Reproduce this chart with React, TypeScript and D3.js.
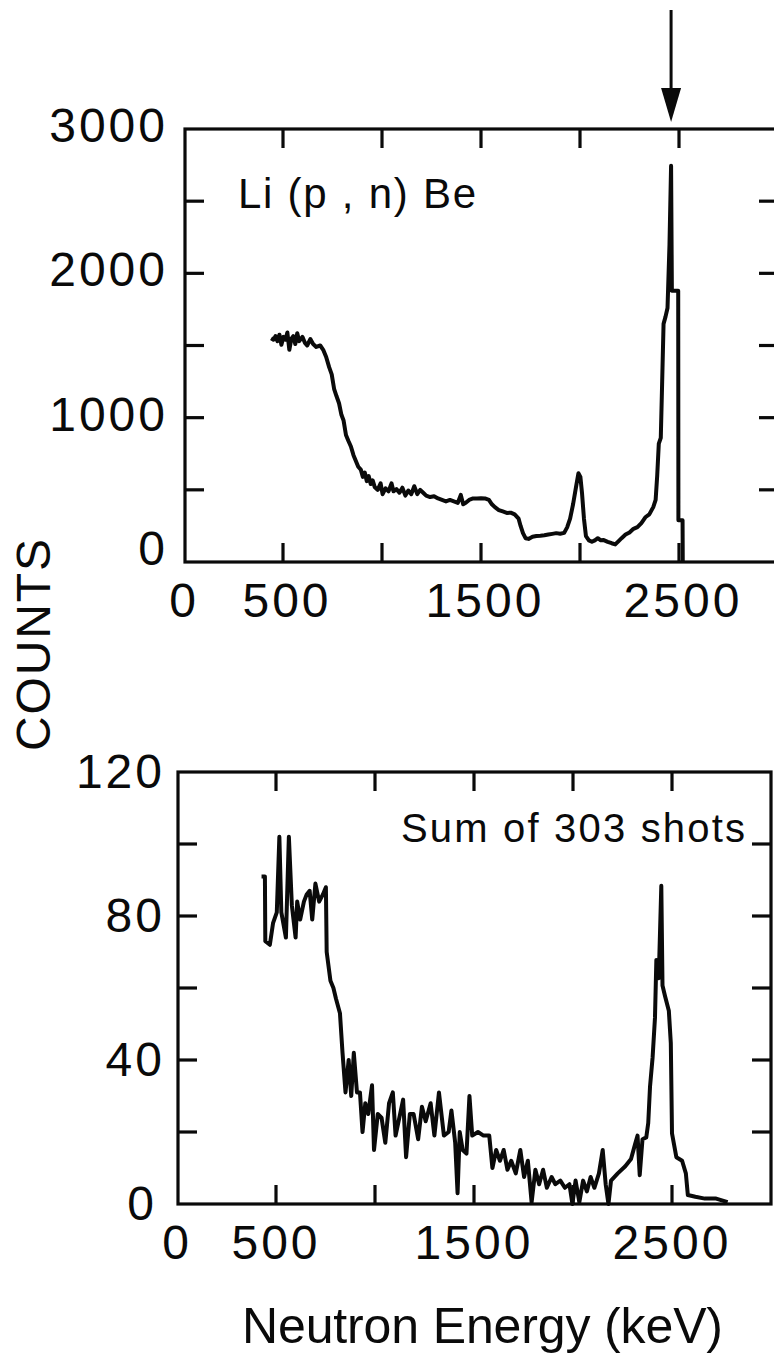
import React from 'react';
import * as d3 from 'd3';

// Li(p,n)Be spectrum, [energy keV, counts]
const liSpectrum: [number, number][] = [
  [440, 1550], [452, 1540], [462, 1565], [472, 1530], [482, 1575], [492, 1505], [502, 1560],
  [512, 1540], [522, 1590], [532, 1470], [542, 1545], [552, 1565], [562, 1510], [572, 1585],
  [582, 1530], [598, 1560], [610, 1520], [622, 1500], [638, 1545], [652, 1510], [668, 1490],
  [688, 1500], [703, 1470], [718, 1420], [733, 1350], [746, 1300], [758, 1200], [770, 1150],
  [783, 1100], [795, 1020], [806, 980], [818, 880], [830, 840], [843, 800], [856, 740],
  [868, 700], [880, 660], [893, 640], [903, 590], [913, 620], [923, 560], [933, 595],
  [943, 540], [953, 565], [963, 520], [978, 500], [993, 545], [1003, 470], [1018, 510],
  [1033, 490], [1048, 545], [1058, 490], [1073, 505], [1088, 480], [1103, 515], [1118, 460],
  [1133, 495], [1148, 470], [1163, 525], [1178, 470], [1193, 500], [1208, 480], [1223, 460],
  [1243, 450], [1263, 455], [1283, 440], [1303, 430], [1323, 420], [1343, 430], [1363, 420],
  [1383, 410], [1398, 465], [1410, 400], [1423, 410], [1440, 430], [1460, 440], [1480, 440],
  [1500, 442], [1520, 440], [1540, 430], [1555, 400], [1570, 380], [1590, 360], [1610, 350],
  [1630, 340], [1650, 342], [1670, 330], [1690, 300], [1700, 250], [1712, 200], [1725, 165],
  [1740, 160], [1760, 175], [1780, 180], [1800, 182], [1820, 185], [1840, 190], [1860, 195],
  [1880, 200], [1900, 196], [1920, 202], [1935, 240], [1950, 300], [1965, 400], [1980, 520],
  [1992, 615], [2002, 590], [2010, 480], [2020, 300], [2030, 180], [2045, 150], [2060, 140],
  [2075, 150], [2090, 165], [2105, 150], [2120, 152], [2140, 140], [2160, 130], [2178, 122],
  [2195, 145], [2210, 165], [2230, 190], [2250, 205], [2270, 230], [2290, 242], [2310, 270],
  [2330, 310], [2350, 330], [2370, 380], [2382, 430], [2390, 600], [2398, 820], [2408, 860],
  [2415, 1250], [2422, 1650], [2432, 1700], [2442, 1760], [2452, 2200], [2460, 2745],
  [2464, 1880], [2496, 1880], [2497, 290], [2518, 290], [2519, 0],
];

// Sum of 303 shots, [energy keV, counts]
const sumSpectrum: [number, number][] = [
  [427, 91], [444, 91], [446, 73], [469, 72], [485, 78], [504, 81], [517, 102], [527, 81],
  [550, 74], [565, 102], [580, 83], [599, 74], [607, 84], [622, 79], [641, 84], [655, 86],
  [670, 87], [683, 79], [699, 89], [718, 84], [737, 86], [752, 88], [756, 70], [775, 62],
  [790, 60], [803, 57], [823, 53], [836, 42], [851, 31], [867, 40], [880, 30], [893, 42],
  [909, 31], [924, 31], [937, 20], [951, 28], [966, 25], [985, 33], [995, 15], [1014, 25],
  [1033, 24], [1052, 17], [1071, 28], [1090, 31], [1104, 19], [1123, 24], [1142, 29],
  [1157, 13], [1176, 25], [1195, 25], [1218, 18], [1237, 27], [1256, 23], [1281, 28],
  [1300, 19], [1323, 31], [1348, 19], [1372, 20], [1386, 26], [1405, 17], [1417, 3],
  [1428, 20], [1443, 15], [1462, 14], [1477, 30], [1491, 19], [1520, 20], [1548, 19],
  [1577, 19], [1593, 10], [1612, 15], [1631, 12], [1650, 15], [1669, 9.5], [1688, 12],
  [1711, 8.5], [1734, 15], [1753, 7.5], [1772, 12], [1791, 0.5], [1810, 9.5], [1829, 5.5],
  [1849, 9.5], [1868, 4.5], [1892, 7.5], [1911, 5.5], [1936, 6.5], [1959, 4.5], [1982, 5.5],
  [1997, 0], [2013, 6.5], [2032, 0.5], [2051, 6.5], [2070, 3.5], [2089, 7.5], [2108, 4.5],
  [2131, 8.5], [2150, 15], [2165, 5.5], [2179, 0], [2192, 6.5], [2226, 8.5], [2264, 10.5],
  [2293, 12.5], [2313, 16.5], [2326, 19], [2337, 8], [2351, 18], [2370, 18.5], [2380, 22.5],
  [2389, 32.6], [2402, 40.7], [2414, 51.7], [2421, 67.8], [2433, 62.7], [2446, 88.4],
  [2452, 60.7], [2465, 57.7], [2484, 53.7], [2494, 44.7], [2500, 19.6], [2522, 13],
  [2551, 12], [2570, 8.5], [2580, 2.5], [2618, 2], [2666, 1.5], [2723, 1.5], [2781, 0.5],
];

const energyTicks = [500, 1000, 1500, 2000, 2500];
const energyLabels = [0, 500, 1500, 2500];
const liCountTicks = [500, 1000, 1500, 2000, 2500];
const liCountLabels = [0, 1000, 2000, 3000];
const sumCountTicks = [20, 40, 60, 80, 100];
const sumCountLabels = [0, 40, 80, 120];
const peakEnergy = 2460;

const font = '"Liberation Sans", Arial, sans-serif';
const ink = '#0a0a0a';

function Panel({ x, y, xTicks, yTicks }) {
  const [x0, x1] = x.range();
  const [y0, y1] = y.range();
  const tick = 19;
  return (
    <g stroke={ink} strokeWidth={3.2} fill="none">
      <rect x={x0 + 1} y={y1} width={x1 - x0 - 1} height={y0 - y1} />
      {xTicks.map(t => (
        <g key={'x' + t}>
          <line x1={x(t)} x2={x(t)} y1={y0} y2={y0 - tick} />
          <line x1={x(t)} x2={x(t)} y1={y1} y2={y1 + tick} />
        </g>
      ))}
      {yTicks.map(t => (
        <g key={'y' + t}>
          <line x1={x0 + 1} x2={x0 + 1 + tick} y1={y(t)} y2={y(t)} />
          <line x1={x1} x2={x1 - tick} y1={y(t)} y2={y(t)} />
        </g>
      ))}
    </g>
  );
}

export default function App() {
  const xTop = d3.scaleLinear().domain([0, 3000]).range([184, 778]);
  const yTop = d3.scaleLinear().domain([0, 3000]).range([562, 129]);
  const xBot = d3.scaleLinear().domain([0, 3000]).range([177, 771]);
  const yBot = d3.scaleLinear().domain([0, 120]).range([1204, 772]);

  const lineTop = d3.line<[number, number]>().x(d => xTop(d[0])).y(d => yTop(d[1]));
  const lineBot = d3.line<[number, number]>().x(d => xBot(d[0])).y(d => yBot(d[1]));

  const digit = { fontFamily: font, fontSize: 48, letterSpacing: 3, fill: ink };
  const ax = xTop(peakEnergy);

  return (
    <svg width={774} height={1353} style={{ position: 'absolute', left: 0, top: 0, background: '#fff' }}>
      <rect width={774} height={1353} fill="#fff" />

      {/* top panel */}
      <Panel x={xTop} y={yTop} xTicks={energyTicks} yTicks={liCountTicks} />
      <path d={lineTop(liSpectrum)} fill="none" stroke={ink} strokeWidth={4} strokeLinejoin="round" />
      {liCountLabels.map(v => (
        <text key={v} x={168} y={yTop(v) + (v === 0 ? 3 : 13)} textAnchor="end" {...digit}>{v}</text>
      ))}
      {energyLabels.map(v => (
        <text key={v} x={xTop(v) + (v === 0 ? 0 : 4)} y={617} textAnchor="middle" {...digit}>{v}</text>
      ))}
      <text x={238} y={208} fontFamily={font} fontSize={42} fill={ink} textLength={238} lengthAdjust="spacing">Li (p , n) Be</text>

      {/* arrow marking the peak */}
      <line x1={ax} x2={ax} y1={10} y2={95} stroke={ink} strokeWidth={3} />
      <path d={`M${ax - 10},88 L${ax + 10},88 L${ax},122 Z`} fill={ink} />

      {/* bottom panel */}
      <Panel x={xBot} y={yBot} xTicks={energyTicks} yTicks={sumCountTicks} />
      <path d={lineBot(sumSpectrum)} fill="none" stroke={ink} strokeWidth={4} strokeLinejoin="round" />
      {sumCountLabels.map(v => (
        <text key={v} x={v === 0 ? 157 : 165} y={yBot(v) + 16} textAnchor="end" {...digit}>{v}</text>
      ))}
      {energyLabels.map(v => (
        <text key={v} x={xBot(v)} y={1259} textAnchor="middle" {...digit}>{v}</text>
      ))}
      <text x={401} y={842} fontFamily={font} fontSize={40} fill={ink} textLength={344} lengthAdjust="spacing">Sum  of 303 shots</text>

      {/* axis titles */}
      <text transform="translate(50,645) rotate(-90)" textAnchor="middle" fontFamily={font} fontSize={48} fill={ink} textLength={212} lengthAdjust="spacing">COUNTS</text>
      <text x={242} y={1343} fontFamily={font} fontSize={50} fill={ink} textLength={481} lengthAdjust="spacing">Neutron Energy (keV)</text>
    </svg>
  );
}
